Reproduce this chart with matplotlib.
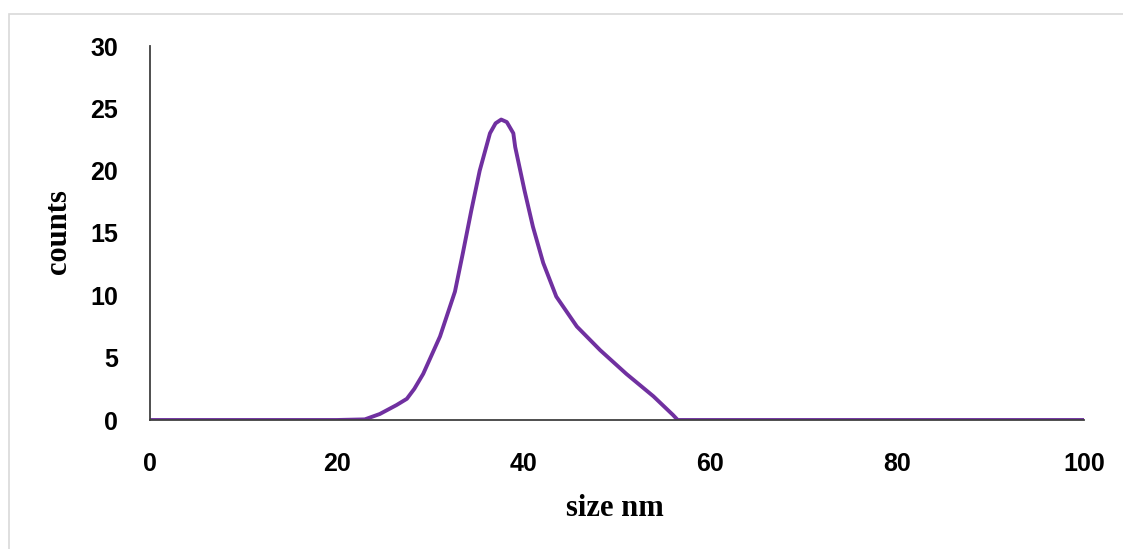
import matplotlib
matplotlib.use("Agg")
import matplotlib.pyplot as plt
from matplotlib.patches import Rectangle

# particle size distribution
size_nm = [0, 5, 10, 15, 20, 23.0, 24.6, 26.4, 27.5, 28.3, 29.25, 31.05, 32.65,
           33.5, 34.4, 35.3, 36.4, 37.0, 37.6, 38.2, 38.9, 39.1, 40.1, 41.0,
           42.1, 43.5, 45.7, 48.2, 51.0, 53.9, 56.0, 56.5, 58, 60, 70, 80, 90, 100]
counts = [0, 0, 0, 0, 0, 0.05, 0.48, 1.2, 1.7, 2.5, 3.7, 6.7, 10.3,
          13.4, 16.8, 20.0, 23.0, 23.8, 24.1, 23.9, 23.0, 21.9, 18.4, 15.5,
          12.6, 9.9, 7.5, 5.6, 3.7, 1.9, 0.4, 0, 0, 0, 0, 0, 0, 0]

x_ticks = [0, 20, 40, 60, 80, 100]
y_ticks = [0, 5, 10, 15, 20, 25, 30]

fig = plt.figure(figsize=(11.23, 5.49), dpi=100)
# light gray frame around the chart area
fig.patches.append(Rectangle((9 / 1123, -0.1), 1.2, 1.1 - 14 / 549,
                             transform=fig.transFigure, fill=False,
                             edgecolor="#D9D9D9", linewidth=1.2))

ax = fig.add_axes([150 / 1123, 1 - 420 / 549, (1084 - 150) / 1123, (420 - 46) / 549])
ax.plot(size_nm, counts, color="#7030A0", linewidth=2.8,
        solid_joinstyle="round", solid_capstyle="butt")

ax.set_xlim(0, 100)
ax.set_ylim(0, 30)
ax.set_xticks(x_ticks)
ax.set_yticks(y_ticks)

tick_font = {"family": "Liberation Sans", "weight": "bold", "size": 18}
ax.set_xticklabels([str(t) for t in x_ticks], fontdict=tick_font)
ax.set_yticklabels([str(t) for t in y_ticks], fontdict=tick_font)
ax.tick_params(axis="both", length=0)
ax.tick_params(axis="x", pad=23)
ax.tick_params(axis="y", pad=23)

for side in ["top", "right"]:
    ax.spines[side].set_visible(False)
for side in ["left", "bottom"]:
    ax.spines[side].set_color("#404040")
    ax.spines[side].set_linewidth(1.3)

label_font = {"family": "Liberation Serif", "weight": "bold", "size": 22}
ax.set_xlabel("size nm", fontdict=label_font)
ax.set_ylabel("counts", fontdict=label_font)
ax.xaxis.set_label_coords((615 - 150) / 934, -(494 - 420) / 374)
ax.yaxis.set_label_coords(-(150 - 73) / 934, (420 - 232) / 374)

fig.savefig("out.png", dpi=100)
